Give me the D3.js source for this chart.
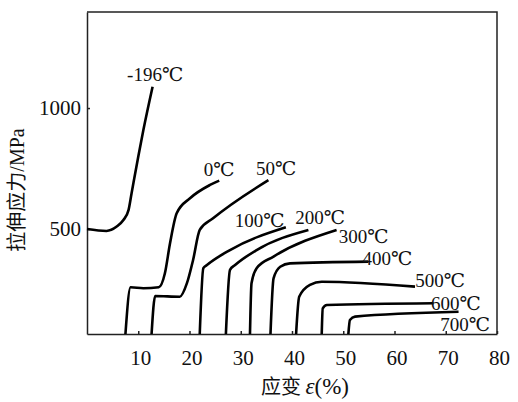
<!DOCTYPE html>
<html>
<head>
<meta charset="utf-8">
<script src="https://cdn.jsdelivr.net/npm/d3@7"></script>
<style>
  body { margin: 0; background: #fff; }
  text { fill: #111; }
</style>
</head>
<body>
<div id="wrapper"></div>
<script>
// strain (%) and stress (MPa), one array per temperature
const curveM196 = [[0, 500], [3.8, 492], [5.8, 510], [7.1, 537], [8.1, 578], [8.7, 648], [10.0, 799], [11.0, 909], [12.8, 1088]]
const curve0 = [[7.5, 66], [8.5, 259], [11.0, 255], [14.0, 259], [15.2, 317], [16.2, 441], [17.5, 565], [20.1, 627], [24.0, 682], [25.8, 700]]
const curve50 = [[12.6, 66], [13.3, 223], [18.1, 220], [19.5, 276], [20.7, 372], [22.0, 496], [24.6, 544], [35.4, 702]]
const curve100 = [[22.0, 66], [22.7, 338], [23.4, 351], [27.9, 413], [38.8, 507]]
const curve200 = [[27.1, 66], [27.9, 331], [28.9, 351], [33.1, 413], [43.2, 496]]
const curve300 = [[31.8, 66], [32.1, 276], [33.1, 338], [36.4, 386], [48.7, 496]]
const curve400 = [[35.8, 66], [36.4, 296], [37.7, 344], [39.6, 358], [54.9, 365]]
const curve500 = [[40.8, 66], [41.4, 220], [43.5, 269], [45.8, 282], [64.0, 262]]
const curve600 = [[45.8, 66], [46.0, 172], [46.8, 186], [67.6, 193]]
const curve700 = [[51.0, 66], [51.3, 124], [52.3, 138], [72.5, 158]]

const curves = [curveM196, curve0, curve50, curve100, curve200, curve300, curve400, curve500, curve600, curve700]

// temperature labels and where they sit (strain, stress)
const tempLabels = ["-196℃", "0℃", "50℃", "100℃", "200℃", "300℃", "400℃", "500℃", "600℃", "700℃"]
const labelStrain = [13.3, 25.8, 36.9, 33.7, 45.5, 54.0, 58.6, 68.9, 72.0, 73.8]
const labelStress = [1137, 744, 752, 537, 546, 467, 380, 289, 194, 107]

const xTicks = [10, 20, 30, 40, 50, 60, 70, 80]
const yTicks = [500, 1000]

const serif = "'Liberation Serif', 'DejaVu Serif', serif"
const cjk = "'Noto Sans CJK SC', sans-serif"

let dimensions = {
  width: 518,
  height: 402,
  margin: { top: 12, right: 21, bottom: 68, left: 87 },
}
dimensions.boundedWidth = dimensions.width - dimensions.margin.left - dimensions.margin.right
dimensions.boundedHeight = dimensions.height - dimensions.margin.top - dimensions.margin.bottom

const wrapper = d3.select("#wrapper")
  .append("svg")
  .attr("width", dimensions.width)
  .attr("height", dimensions.height)

const bounds = wrapper.append("g")
  .attr("transform", `translate(${dimensions.margin.left},${dimensions.margin.top})`)

const xScale = d3.scaleLinear()
  .domain([0, 80])
  .range([0, dimensions.boundedWidth])

const yScale = d3.scaleLinear()
  .domain([66, 1397])
  .range([dimensions.boundedHeight, 0])

// frame top and right
bounds.append("path")
  .attr("d", `M0,0H${dimensions.boundedWidth}V${dimensions.boundedHeight}`)
  .attr("fill", "none")
  .attr("stroke", "#222")
  .attr("stroke-width", 1.5)

const xAxis = bounds.append("g")
  .attr("transform", `translate(0,${dimensions.boundedHeight})`)
  .attr("font-family", serif)
  .call(d3.axisBottom(xScale).tickValues(xTicks).tickSize(-3).tickPadding(16).tickSizeOuter(0))
xAxis.selectAll("text")
  .attr("dx", "0.1em")
  .style("font-family", serif)
  .style("font-size", "21px")
  .style("fill", "#111")

const yAxis = bounds.append("g")
  .attr("font-family", serif)
  .call(d3.axisLeft(yScale).tickValues(yTicks).tickFormat(d3.format("d")).tickSize(-3).tickPadding(6).tickSizeOuter(0))
yAxis.selectAll("text")
  .style("font-family", serif)
  .style("font-size", "21px")
  .style("fill", "#111")

bounds.selectAll(".domain, .tick line")
  .attr("stroke", "#222")
  .attr("stroke-width", 1.5)

const lineGenerator = d3.line()
  .x(d => xScale(d[0]))
  .y(d => yScale(d[1]))
  .curve(d3.curveMonotoneX)

bounds.selectAll(".curve")
  .data(curves)
  .join("path")
  .attr("class", "curve")
  .attr("d", lineGenerator)
  .attr("fill", "none")
  .attr("stroke", "#000")
  .attr("stroke-width", 2.6)
  .attr("stroke-linejoin", "round")

bounds.selectAll(".temp")
  .data(tempLabels)
  .join("text")
  .attr("class", "temp")
  .attr("x", (d, i) => xScale(labelStrain[i]))
  .attr("y", (d, i) => yScale(labelStress[i]))
  .attr("text-anchor", "middle")
  .attr("dominant-baseline", "central")
  .style("font-family", serif + ", " + cjk)
  .style("font-size", "19px")
  .text(d => d)

// axis titles
const xTitle = wrapper.append("text")
  .attr("x", 305)
  .attr("y", 394)
  .attr("text-anchor", "middle")
  .style("font-size", "20px")
xTitle.append("tspan").style("font-family", cjk).text("应变 ")
xTitle.append("tspan").style("font-family", serif).style("font-style", "italic").style("font-size", "23px").text("ε")
xTitle.append("tspan").style("font-family", serif).style("font-size", "23px").text("(%)")

wrapper.append("text")
  .attr("transform", "translate(24,190) rotate(-90)")
  .attr("text-anchor", "middle")
  .style("font-size", "20px")
  .call(t => t.append("tspan").style("font-family", cjk).text("拉伸应力"))
  .call(t => t.append("tspan").style("font-family", serif).text("/MPa"))
</script>
</body>
</html>
